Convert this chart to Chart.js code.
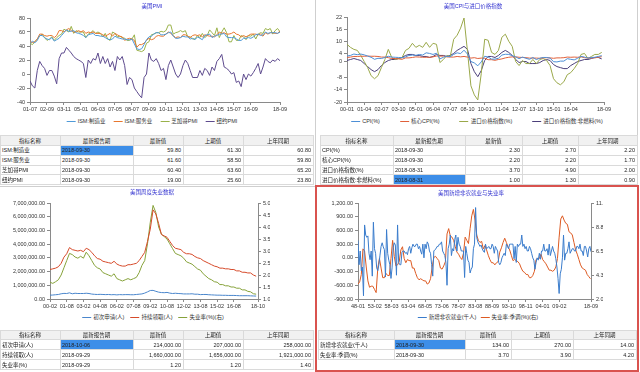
<!DOCTYPE html>
<html><head><meta charset="utf-8">
<script src="https://cdn.jsdelivr.net/npm/chart.js@4.4.0/dist/chart.umd.min.js"></script>
<style>
body{margin:0;width:640px;height:372px;overflow:hidden;background:#fff;position:relative;font-family:'Liberation Sans','Noto Sans CJK SC',sans-serif;}
canvas{position:absolute;}
.ttl{position:absolute;transform:translate(-50%,-50%);font-size:5.5px;color:#3535d0;white-space:nowrap;}
.lg{position:absolute;transform:translate(-50%,-50%);font-size:5.5px;color:#333;white-space:nowrap;display:flex;align-items:center;}
.lg span{display:inline-flex;align-items:center;}
.lg i{display:inline-block;width:9px;height:1px;margin-right:2px;}
table{position:absolute;border-collapse:collapse;font-size:5.5px;color:#222;table-layout:fixed;}
td,th{border:1px solid #dadada;padding:0 2px 0 1px;white-space:nowrap;overflow:hidden;line-height:6px;}
th{background:#f1f1f1;font-weight:normal;text-align:center;}
td.n{text-align:right;}
td.sel{background:#3d8ee8;}
.vl{position:absolute;background:#cfcfcf;}
.red{position:absolute;border:2px solid #d9534f;box-sizing:border-box;}
</style></head><body>
<canvas id="c1" width="315" height="114" style="left:0;top:0"></canvas>
<canvas id="c2" width="316" height="114" style="left:320px;top:0"></canvas>
<canvas id="c3" width="315" height="125" style="left:0;top:186px"></canvas>
<canvas id="c4" width="320" height="125" style="left:318px;top:186px"></canvas>
<div class="ttl" style="left:152px;top:6px">美国PMI</div>
<div class="ttl" style="left:473px;top:6px">美国CPI与进口价格指数</div>
<div class="ttl" style="left:152px;top:192px">美国周度失业数据</div>
<div class="ttl" style="left:471px;top:193px">美国新增非农就业与失业率</div>
<div class="lg" id="l1" style="left:152px;top:121px;gap:8px"></div>
<div class="lg" id="l2" style="left:477px;top:121px;gap:20px"></div>
<div class="lg" id="l3" style="left:153px;top:317px;gap:6px"></div>
<div class="lg" id="l4" style="left:478px;top:317px;gap:4px"></div>
<div class="vl" style="left:315px;top:0;width:1px;height:186px"></div>
<div class="vl" style="left:637px;top:0;width:1px;height:186px"></div>
<div class="vl" style="left:0;top:186px;width:315px;height:1px"></div>
<div class="red" style="left:315px;top:185px;width:324px;height:187px"></div>
<script>
// ---------- data ----------
const tableHeader = ['指标名称','最新报告期','最新值','上期值','上年同期'];

// Chart 1: US PMI, bimonthly from 2001-07 to 2018-09
const pmiTicksX = ['01-07','02-09','03-11','05-01','06-03','07-05','08-07','09-09','10-11','12-01','13-03','14-05','15-07','16-09','18-09'];
const pmiTicksY = [80,60,40,20,0,-20,-40];
const ismMfg = [43.5,47,44.5,
 48,55,55,52,50,49, 52,47,49,51,55,59, 63,61,61,62,59,58, 57,55,52,56,57,58,
 55,55,54,54,52,50, 49,50,54,52,51,50, 50,49,49,50,43,36, 35,36,42,49,53,54,
 57,59,59,56,56,57, 59,60,54,51,51,52, 54,53,53,50,51,49, 53,51,49,55,56,57,
 52,54,55,57,57,58, 53,52,52,52,50,48, 48,51,51,52,51,53, 56,57,55,56,60,58,
 59,59,59,58,59.8];
const ismSvc = [46,45,46,
 50,57,57,55,54,55, 55,52,55,62,62,60, 63,65,62,60,60,62, 60,62,58,60,59,60,
 58,58,58,56,54,56, 58,54,58,56,54,53, 48,50,51,50,48,38, 42,42,44,48,51,49,
 50,54,55,54,54,57, 60,58,55,52,53,52, 56,56,54,52,55,56, 55,56,53,56,55,54,
 54,53,56,60,58,59, 57,57,58,60,57,56, 53,55,53,55,57,57, 57,56,57,54,59,57,
 59,59,58,58,61.6];
const chicagoPMI = [44,42,46,
 50,54,57,52,48,50, 53,48,52,55,57,64, 62,60,68,58,62,60, 60,60,52,57,59,62,
 58,60,58,53,58,50, 48,60,58,53,54,52, 51,48,48,50,56,34, 33,32,34,44,46,56,
 57,59,59,61,60,62, 70,70,57,59,60,62, 60,62,53,53,50,50, 55,52,58,52,55,63,
 59,55,66,52,60,66, 59,46,46,55,48,48, 55,53,49,55,54,57, 50,57,59,58,65,63,
 65,57,62,65,60.4];
const nyPMI = [-10,-17,-20,
 5,18,12,8,-2,5, 5,-3,-14,22,30,30, 38,34,30,25,22,20, 18,15,-5,20,15,22,
 20,30,15,25,15,22, 10,18,5,25,20,25, 12,-15,-5,-8,-20,-25, -30,-34,-5,0,30,20,
 18,22,15,5,8,-8, 12,20,10,0,-5,0, 12,20,15,5,-5,-5, -5,5,-2,8,5,-2,
 10,5,18,22,28,10, 8,5,0,2,-12,-10, -18,0,-8,0,-3,2, 8,15,0,10,22,18,
 16,20,18,22,19];
const pmiTable = [
 ['ISM:制造业','2018-09-30','59.80','61.30','60.80'],
 ['ISM:服务业','2018-09-30','61.60','58.50','59.80'],
 ['芝加哥PMI','2018-09-30','60.40','63.60','65.20'],
 ['纽约PMI','2018-09-30','19.00','25.60','23.80']];

// Chart 2: CPI & import prices, quarterly from 2000-01
const cpiTicksX = ['00-01','01-04','02-07','03-10','05-01','06-04','07-07','08-10','10-01','11-04','12-07','13-10','15-01','16-04','18-09'];
const cpiTicksY = [22,16,10,4,0,-8,-14,-20];
const cpi = [2.7,3.0,3.7,3.4, 3.7,3.3,2.7,2.1, 1.1,1.6,1.5,2.0, 2.6,2.2,2.1,2.0,
 1.9,2.3,3.0,3.2, 3.0,3.5,3.2,4.3, 4.0,3.5,4.1,1.3, 2.1,2.6,2.4,3.5,
 4.3,3.9,5.6,3.7, 0.0,-0.7,-2.1,-0.2, 2.6,2.2,1.2,1.2, 1.6,3.2,3.6,3.5,
 2.9,2.3,1.4,2.2, 1.6,1.1,2.0,1.0, 1.6,2.0,2.0,1.7, -0.1,-0.2,0.2,0.2,
 1.4,1.1,0.8,1.6, 2.5,2.2,1.7,2.0, 2.1,2.5,2.9];
const coreCpi = [2.0,2.2,2.5,2.5, 2.6,2.6,2.7,2.6, 2.6,2.5,2.2,2.2, 1.9,1.5,1.5,1.3,
 1.1,1.8,1.8,2.0, 2.3,2.2,2.1,2.1, 2.1,2.3,2.7,2.7, 2.7,2.3,2.2,2.2,
 2.5,2.3,2.5,2.2, 1.7,1.9,1.5,1.7, 1.6,0.9,0.9,0.6, 1.0,1.3,1.8,2.1,
 2.3,2.3,2.1,2.0, 1.9,1.7,1.7,1.7, 1.6,1.8,1.9,1.8, 1.6,1.8,1.8,1.9,
 2.2,2.1,2.2,2.1, 2.3,1.9,1.7,1.8, 1.8,2.1,2.4];
const importPx = [8.5,7.0,6.0,5.5, 3.0,0.0,-3.0,-7.0, -8.5,-7.0,-3.0,1.0, 6.0,2.0,1.0,1.5,
 2.0,5.5,6.5,9.0, 7.0,8.0,7.0,9.5, 7.0,9.0,8.5,-0.5, 1.0,3.0,2.5,11.0,
 13.0,16.5,21.5,5.0, -12.0,-16.5,-19.0,-6.0, 11.0,10.5,4.5,3.5, 5.5,12.0,13.5,10.0,
 7.5,0.0,-2.0,0.5, -1.0,-1.0,1.0,-1.0, 1.0,1.5,0.5,-2.0, -8.5,-10.5,-11.5,-10.0,
 -6.5,-5.5,-3.5,-1.0, 3.5,4.0,1.5,2.5, 3.5,3.5,4.5];
const importNonFuel = [0.5,1.0,1.5,1.0, 0.5,-1.0,-2.5,-4.0, -5.0,-4.0,-2.0,-0.5, 0.5,1.0,1.0,1.5,
 2.0,3.0,3.5,3.5, 3.0,3.0,2.5,2.5, 2.0,2.5,3.5,3.0, 3.0,2.5,3.0,4.0,
 5.5,6.5,7.5,6.0, -1.0,-5.0,-7.5,-4.5, 0.5,2.5,2.5,2.0, 3.0,4.5,5.5,4.5,
 3.0,1.0,-0.5,0.0, 0.0,-1.0,-1.0,-1.0, -0.5,0.5,1.0,0.5, -1.5,-2.5,-3.0,-3.5,
 -3.5,-2.0,-1.0,0.0, 0.5,1.0,1.0,1.5, 2.0,2.0,1.3];
const cpiTable = [
 ['CPI(%)','2018-09-30','2.30','2.70','2.20'],
 ['核心CPI(%)','2018-09-30','2.20','2.20','1.70'],
 ['进口价格指数(%)','2018-08-31','3.70','4.90','2.00'],
 ['进口价格指数:非燃料(%)','2018-08-31','1.00','1.30','0.90']];

// Chart 3: weekly jobless data, quarterly samples from 2000-02
const clmTicksX = ['00-02','01-08','03-02','04-08','06-02','07-08','09-02','10-08','12-02','13-08','15-02','16-08','18-10'];
const clmTicksY = [0,1000000,2000000,3000000,4000000,5000000,6000000,7000000];
const clmTicksY1 = [1.0,1.5,2.0,2.5,3.0,3.5,4.0,4.5,5.0];
const initialClaims = [280000,290000,310000,330000, 380000,410000,400000,450000, 380000,420000,400000,400000,
 400000,420000,400000,360000, 340000,330000,340000,330000, 320000,330000,310000,320000,
 300000,320000,310000,320000, 320000,310000,310000,330000, 350000,370000,430000,520000,
 620000,630000,560000,500000, 470000,460000,480000,430000, 400000,420000,400000,390000,
 370000,370000,370000,380000, 350000,350000,320000,330000, 330000,310000,300000,290000,
 280000,280000,270000,270000, 260000,260000,260000,250000, 240000,240000,240000,240000,
 230000,220000,214000];
const continuingClaims = [2150000,2200000,2250000,2350000, 2600000,3050000,3300000,3750000, 3600000,3550000,3500000,3550000,
 3450000,3700000,3600000,3400000, 3150000,2950000,2900000,2750000, 2700000,2650000,2600000,2750000,
 2550000,2450000,2400000,2400000, 2500000,2500000,2550000,2600000, 2800000,3100000,3400000,4200000,
 5100000,6500000,6200000,5500000, 4700000,4600000,4500000,4200000, 3900000,3700000,3650000,3600000,
 3400000,3300000,3300000,3250000, 3100000,3000000,2950000,2800000, 2700000,2600000,2500000,2400000,
 2350000,2250000,2250000,2200000, 2200000,2150000,2150000,2050000, 2050000,1950000,1950000,1900000,
 1900000,1750000,1660000];
const insuredRate = [1.70,1.65,1.72,1.80, 2.00,2.30,2.60,2.90, 2.85,2.75,2.70,2.78,
 2.70,2.95,2.80,2.60, 2.40,2.30,2.25,2.10, 2.05,2.00,1.95,2.05,
 1.85,1.80,1.75,1.80, 1.85,1.80,1.85,1.90, 2.10,2.40,2.60,3.30,
 4.20,4.90,4.60,4.00, 3.70,3.60,3.50,3.30, 3.10,2.90,2.85,2.80,
 2.70,2.55,2.50,2.45, 2.35,2.25,2.20,2.05, 1.95,1.85,1.80,1.72,
 1.70,1.60,1.60,1.55, 1.55,1.50,1.50,1.45, 1.45,1.38,1.38,1.32,
 1.30,1.22,1.20];
const clmTable = [
 ['初次申请(人)','2018-10-06','214,000.00','207,000.00','258,000.00'],
 ['持续领取(人)','2018-09-29','1,660,000.00','1,656,000.00','1,921,000.00'],
 ['失业率(%)','2018-09-29','1.20','1.20','1.40']];

// Chart 4: nonfarm payrolls (Jan/May/Sep, from 1948-01) and unemployment rate (Jan/Jul)
const nfpTicksX = ['48-01','53-02','58-03','63-04','68-05','73-06','78-07','83-08','88-09','93-10','98-11','04-01','09-02','18-09'];
const nfpTicksY = [-900,-600,-300,0,300,600,900,1200];
const nfpTicksY1 = [2.0,4.25,6.5,8.75,11.0];
const payrolls = [
 380,-150,150, -280,-200,-830, 720,500,450, 480,100,-40, 150,-400,780, 200,100,-220,
 -280,-150,60, 250,330,240, 180,-420,620, 100,-50,-150, -450,-220,230, 330,280,-380,
 720,-100,-150, -150,120,150, 150,100,120, 70,200,250, 100,220,300, 250,250,300,
 300,200,250, 150,80,300, 0,300,200, 350,300,150, 100,-150,-400, 150,180,200,
 250,250,300, 300,350,150, 100,50,-100, -600,200,300, 500,50,200, 150,400,500,
 150,450,300, 250,150,150, 150,-430,250, 100,-50,-100, -330,-250,-200, 200,300,1100,
 450,350,300, 250,280,200, 150,120,300, 200,220,250, 200,200,300, 250,100,250,
 200,150,-100, -150,-100,0, 50,100,50, 300,250,200, 300,300,300, 300,-20,250,
 -100,300,250, 300,300,500, 250,300,200, 250,150,150, 250,200,100, 0,-50,-250,
 -100,0,-50, 100,-30,150, 150,300,150, 150,200,60, 300,50,150, 250,150,100,
 -20,-200,-450, -780,-350,-250, 0,500,-50, 100,100,200, 350,100,150, 200,200,150,
 150,250,250, 200,300,150, 150,50,250, 250,150,20, 200,250,134];
const unemployment = [
 3.4,3.6, 4.3,6.7, 6.5,5.0, 3.7,3.1, 3.2,3.2, 2.9,2.6, 4.9,5.8, 4.9,4.0, 4.0,4.4, 4.2,4.2,
 5.8,7.5, 6.0,5.1, 5.2,5.5, 6.6,6.9, 5.8,5.4, 5.7,5.6, 5.6,4.9, 4.9,4.4, 4.0,3.8, 3.9,3.8,
 3.7,3.7, 3.4,3.5, 3.9,5.0, 5.9,6.0, 5.8,5.6, 4.9,4.8, 5.1,5.5, 8.1,8.6, 7.9,7.8, 7.5,6.9,
 6.4,6.2, 5.9,5.7, 6.3,7.8, 7.5,7.2, 8.6,9.8, 10.4,9.4, 8.0,7.5, 7.3,7.4, 6.7,7.0, 6.6,6.1,
 5.7,5.4, 5.4,5.2, 5.4,5.5, 6.4,6.8, 7.3,7.7, 7.3,6.9, 6.6,6.1, 5.6,5.7, 5.6,5.5, 5.3,4.9,
 4.6,4.5, 4.3,4.3, 4.0,4.0, 4.2,4.6, 5.7,5.8, 5.8,6.2, 5.7,5.5, 5.3,5.0, 4.7,4.7, 4.6,4.7,
 5.0,5.8, 7.8,9.5, 9.8,9.4, 9.1,9.0, 8.3,8.2, 8.0,7.3, 6.6,6.2, 5.7,5.2, 4.9,4.8, 4.7,4.3,
 4.1,3.9];
const nfpTable = [
 ['新增非农就业(千人)','2018-09-30','134.00','270.00','14.00'],
 ['失业率:季调(%)','2018-09-30','3.70','3.90','4.20']];

// ---------- helpers ----------
Chart.defaults.font.family = "'Liberation Sans','Noto Sans CJK SC',sans-serif";
Chart.defaults.font.size = 5.5;
Chart.defaults.color = '#333';

function ym(label, y0, m0) {
  const p = label.split('-').map(Number);
  const y = p[0] >= 40 ? 1900 + p[0] : 2000 + p[0];
  return (y - y0) * 12 + (p[1] - m0);
}
function pts(vals, step) { return vals.map((v, i) => ({x: i * step, y: v})); }
const money = v => v.toLocaleString('en-US', {minimumFractionDigits: 2, maximumFractionDigits: 2});

function xAxis(labels, y0, m0) {
  const pos = labels.map(l => ym(l, y0, m0));
  return {
    type: 'linear', min: 0, max: pos[pos.length - 1],
    afterBuildTicks: ax => { ax.ticks = pos.map(v => ({value: v})); },
    ticks: {autoSkip: false, maxRotation: 0, padding: 1, callback: (v) => { const i = pos.indexOf(v); return i >= 0 ? labels[i] : ''; }},
    grid: {drawOnChartArea: false, tickLength: 3, color: '#8a8a8a'},
    border: {color: '#8a8a8a'},
    afterFit: ax => { ax.height = 12; }
  };
}
function yAxis(vals, fmt, width, position) {
  return {
    type: 'linear', position: position || 'left',
    min: Math.min(...vals), max: Math.max(...vals),
    afterBuildTicks: ax => { ax.ticks = vals.map(v => ({value: v})); },
    ticks: {padding: 2, callback: v => fmt(v)},
    grid: {drawOnChartArea: false, tickLength: 3, color: '#8a8a8a'},
    border: {color: '#8a8a8a'},
    afterFit: ax => { ax.width = width; }
  };
}
function ds(label, vals, step, color, axis) {
  return {label, data: pts(vals, step), borderColor: color, backgroundColor: color, yAxisID: axis || 'y', fill: false};
}
function makeChart(id, datasets, scales, pad) {
  return new Chart(document.getElementById(id), {
    type: 'line',
    data: {datasets},
    options: {
      responsive: false, animation: false, devicePixelRatio: 1,
      layout: {padding: pad},
      plugins: {legend: {display: false}, title: {display: false}, tooltip: {enabled: false}},
      elements: {point: {radius: 0}, line: {borderWidth: 1, tension: 0}},
      scales
    }
  });
}
function htmlLegend(elId, chart) {
  const el = document.getElementById(elId);
  chart.data.datasets.forEach(d => {
    const s = document.createElement('span');
    const i = document.createElement('i');
    i.style.background = d.borderColor;
    s.appendChild(i);
    s.appendChild(document.createTextNode(d.label));
    el.appendChild(s);
  });
}
function makeTable(rows, left, top, widths, headH, rowH, selRow) {
  const t = document.createElement('table');
  t.style.left = left + 'px'; t.style.top = top + 'px';
  const cg = document.createElement('colgroup');
  widths.forEach(w => { const c = document.createElement('col'); c.style.width = w + 'px'; cg.appendChild(c); });
  t.appendChild(cg);
  const hr = document.createElement('tr'); hr.style.height = headH + 'px';
  tableHeader.forEach(h => { const th = document.createElement('th'); th.textContent = h; hr.appendChild(th); });
  t.appendChild(hr);
  rows.forEach((r, ri) => {
    const tr = document.createElement('tr'); tr.style.height = rowH + 'px';
    r.forEach((c, ci) => {
      const td = document.createElement('td'); td.textContent = c;
      if (ci >= 2) td.className = 'n';
      if (ci === 1 && ri === selRow) td.className = 'sel';
      tr.appendChild(td);
    });
    t.appendChild(tr);
  });
  document.body.appendChild(t);
}

// ---------- charts ----------
const ch1 = makeChart('c1', [
  ds('ISM:制造业', ismMfg, 2, '#4f9ad8'),
  ds('ISM:服务业', ismSvc, 2, '#e8772e'),
  ds('芝加哥PMI', chicagoPMI, 2, '#9ab24a'),
  ds('纽约PMI', nyPMI, 2, '#5e4b8e')
], {x: xAxis(pmiTicksX, 2001, 7), y: yAxis(pmiTicksY, v => String(v), 30)},
 {top: 18, left: 0, right: 35, bottom: 0});
htmlLegend('l1', ch1);

const ch2 = makeChart('c2', [
  ds('CPI(%)', cpi, 3, '#4d8fd6'),
  ds('核心CPI(%)', coreCpi, 3, '#e0603a'),
  ds('进口价格指数(%)', importPx, 3, '#9aa84a'),
  ds('进口价格指数:非燃料(%)', importNonFuel, 3, '#4b3f7a')
], {x: xAxis(cpiTicksX, 2000, 1), y: yAxis(cpiTicksY, v => String(v), 27)},
 {top: 17, left: 0, right: 32, bottom: 0});
htmlLegend('l2', ch2);

const ch3 = makeChart('c3', [
  ds('初次申请(人)', initialClaims, 3, '#4a86cc'),
  ds('持续领取(人)', continuingClaims, 3, '#d64a2a'),
  ds('失业率(%)(右)', insuredRate, 3, '#86a23a', 'y1')
], {x: xAxis(clmTicksX, 2000, 2), y: yAxis(clmTicksY, money, 50), y1: yAxis(clmTicksY1, v => v.toFixed(1), 12, 'right')},
 {top: 17, left: 0, right: 45, bottom: 0});
htmlLegend('l3', ch3);

const ch4 = makeChart('c4', [
  ds('新增非农就业(千人)', payrolls, 4, '#3a7ccc'),
  ds('失业率:季调(%)(右)', unemployment, 6, '#dd5a22', 'y1')
], {x: xAxis(nfpTicksX, 1948, 1), y: yAxis(nfpTicksY, money, 40), y1: yAxis(nfpTicksY1, v => v.toFixed(1), 12, 'right')},
 {top: 17, left: 0, right: 35, bottom: 0});
htmlLegend('l4', ch4);

// ---------- tables ----------
makeTable(pmiTable, 0, 135, [60,73,50,60,70], 10, 9.75, 0);
makeTable(cpiTable, 320, 135, [73,72,57,56,59], 10, 9.75, 3);
makeTable(clmTable, 0, 330, [60,73,50,60,70], 9, 10, 0);
makeTable(nfpTable, 318, 330, [76,71,46,62,63], 9, 10, 0);
</script>
</body></html>
